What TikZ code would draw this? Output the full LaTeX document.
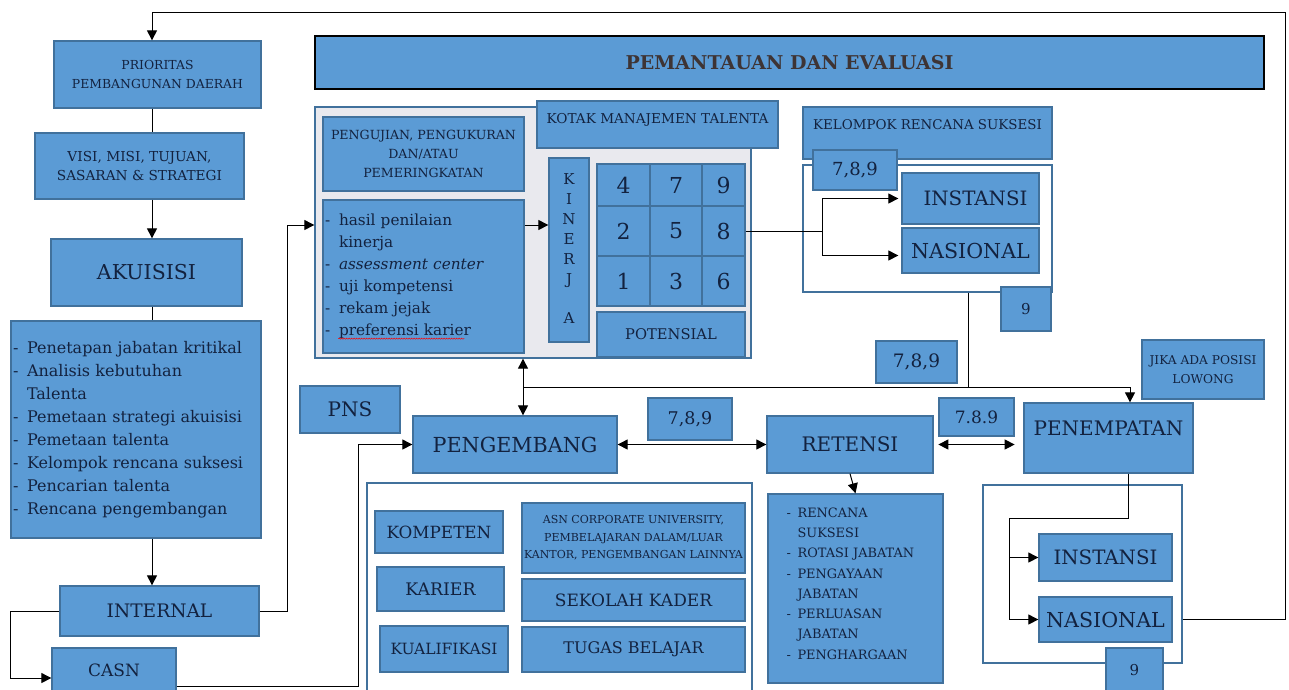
\documentclass[tikz,border=0pt]{standalone}
\usepackage{fontspec}
\setmainfont{DejaVu Serif}
\usetikzlibrary{arrows.meta,calc,decorations.pathmorphing}
\definecolor{bf}{HTML}{5B9BD5}
\definecolor{bd}{HTML}{41719C}
\definecolor{tx}{HTML}{13223F}
\definecolor{gr}{HTML}{E9E9EE}
\definecolor{ttl}{HTML}{3E3434}
\newcommand\fs[2]{\fontsize{#1}{#2}\selectfont}
\newcommand\itm{\makebox[14pt][l]{-}}
\newcommand\itr{\makebox[11pt][l]{-}}
\newcommand\bx[7][]{\node[box,minimum width={#5-#3},minimum height={#6-#4},#1] (#2) at ({(#3+#5)/2},{-(#4+#6)/2}) {#7};}
\begin{document}
\begin{tikzpicture}[x=1pt,y=1pt,
  box/.style={draw=bd,fill=bf,line width=1.3pt,text=tx,inner sep=0pt,align=center},
  lab/.style={inner sep=0pt,text=tx,align=center},
  ln/.style={line width=1pt},
  arr/.style={line width=1pt,-{Triangle[length=10pt,width=10pt]}},
  arr2/.style={line width=1pt,{Triangle[length=10pt,width=10pt]}-{Triangle[length=10pt,width=10pt]}}]
\useasboundingbox (0,0) rectangle (1289,-689);
\fill[white] (0,0) rectangle (1289,-689);
% ---- left column
\bx[font=\fs{12.4}{19}]{prio}{54}{41}{261}{108}{PRIORITAS\\PEMBANGUNAN DAERAH}
\bx[font=\fs{13.7}{19}]{visi}{35}{133}{244}{199}{VISI, MISI, TUJUAN,\\SASARAN \& STRATEGI}
\bx[font=\fs{20.5}{24}]{akui}{51}{239}{242}{306}{AKUISISI}
\bx[font=\fs{16}{23},align=left,text width=246pt]{alist}{11}{321}{261}{538}{\itm Penetapan jabatan kritikal\\\itm Analisis kebutuhan\\\hspace*{14pt}Talenta\\\itm Pemetaan strategi akuisisi\\\itm Pemetaan talenta\\\itm Kelompok rencana suksesi\\\itm Pencarian talenta\\\itm Rencana pengembangan}
\bx[font=\fs{18.6}{22}]{internal}{60}{586}{259}{636}{INTERNAL}
\bx[label={[lab,font=\fs{17}{20},yshift=8]center:CASN}]{casn}{52}{648}{176}{708}{}
\bx[font=\fs{20}{24}]{pns}{300}{386}{400}{433}{PNS}
% ---- title
\bx[draw=black,line width=2pt,font=\fs{19}{24}\bfseries,text=ttl]{title}{315}{36}{1264}{89}{PEMANTAUAN DAN EVALUASI}
% ---- talent box area
\bx[fill=gr]{gray}{315}{107}{751}{358}{}
\bx[font=\fs{12.6}{19}]{peng}{323}{117}{524}{191}{PENGUJIAN, PENGUKURAN\\DAN/ATAU\\PEMERINGKATAN}
\bx[font=\fs{15.3}{22},align=left,text width=197pt]{hasil}{323}{200}{524}{353}{\itm hasil penilaian\\\hspace*{14pt}kinerja\\\itm\textit{assessment center}\\\itm uji kompetensi\\\itm rekam jejak\\\itm preferensi karier}
\draw[red,line width=0.5pt,decorate,decoration={snake,amplitude=0.6pt,segment length=2.5pt}] ([xshift=16,yshift=15]hasil.south west) -- ++(126,0);
\bx[label={[lab,font=\fs{13.6}{16},yshift=4.5]center:KOTAK MANAJEMEN TALENTA}]{kotak}{537}{101}{778}{148}{}
\bx[label={[lab,font=\fs{15}{20},anchor=north,yshift=-16]north:K\\I\\N\\E\\R\\J\\[19pt]A}]{kin}{549}{158}{589}{342}{}
\bx[font=\fs{22}{24}]{g4}{597}{164}{650}{206}{4}
\bx[font=\fs{22}{24}]{g7}{650}{164}{702}{206}{7}
\bx[font=\fs{22}{24}]{g9}{702}{164}{745}{206}{9}
\bx[font=\fs{22}{24}]{g2}{597}{206}{650}{256}{2}
\bx[font=\fs{22}{24}]{g5}{650}{206}{702}{256}{5}
\bx[font=\fs{22}{24}]{g8}{702}{206}{745}{256}{8}
\bx[font=\fs{22}{24}]{g1}{597}{256}{650}{306}{1}
\bx[font=\fs{22}{24}]{g3}{650}{256}{702}{306}{3}
\bx[font=\fs{22}{24}]{g6}{702}{256}{745}{306}{6}
\bx[font=\fs{14.7}{18}]{pot}{597}{312}{745}{357}{POTENSIAL}
% ---- succession group
\bx[label={[lab,font=\fs{13.4}{16},yshift=8]center:KELOMPOK RENCANA SUKSESI}]{kel}{803}{107}{1052}{159}{}
\bx[fill=white]{kbox}{803}{165}{1052}{292}{}
\bx[font=\fs{18}{20}]{sa}{813}{150}{897}{190}{7,8,9}
\bx[label={[lab,font=\fs{19.8}{24},xshift=5]center:INSTANSI}]{inst1}{902}{173}{1039}{224}{}
\bx[font=\fs{20.6}{24}]{nas1}{902}{228}{1039}{273}{NASIONAL}
\bx[font=\fs{15}{16}]{na}{1001}{287}{1051}{331}{9}
\bx[font=\fs{18.5}{20}]{sb}{876}{341}{957}{383}{7,8,9}
\bx[font=\fs{12.2}{19}]{jika}{1142}{340}{1264}{399}{JIKA ADA POSISI\\LOWONG}
% ---- middle row
\bx[font=\fs{20.7}{24}]{pengb}{413}{416}{617}{473}{PENGEMBANG}
\bx[font=\fs{17.5}{20}]{sc}{648}{398}{732}{440}{7,8,9}
\bx[font=\fs{20}{24}]{ret}{767}{416}{933}{473}{RETENSI}
\bx[font=\fs{17}{20}]{sd}{939}{398}{1014}{436}{7.8.9}
\bx[label={[lab,font=\fs{20}{24},yshift=10]center:PENEMPATAN}]{pen}{1024}{403}{1193}{473}{}
% ---- development group
\bx[fill=white]{pbox}{367}{483}{752}{705}{}
\bx[font=\fs{16.8}{20}]{komp}{375}{511}{503}{553}{KOMPETEN}
\bx[font=\fs{17.3}{20}]{kar}{377}{567}{504}{611}{KARIER}
\bx[font=\fs{15.5}{20}]{kual}{380}{626}{508}{672}{KUALIFIKASI}
\bx[font=\fs{11}{17.5}]{asn}{522}{503}{745}{573}{ASN CORPORATE UNIVERSITY,\\PEMBELAJARAN DALAM/LUAR\\KANTOR, PENGEMBANGAN LAINNYA}
\bx[font=\fs{17}{20}]{sek}{522}{579}{745}{621}{SEKOLAH KADER}
\bx[font=\fs{16}{20}]{tug}{522}{627}{745}{672}{TUGAS BELAJAR}
% ---- retention list
\bx[label={[lab,align=left,font=\fs{12.9}{20.3},anchor=north west,xshift=19,yshift=-14]north west:\itr RENCANA\\\hspace*{11pt}SUKSESI\\\itr ROTASI JABATAN\\\itr PENGAYAAN\\\hspace*{11pt}JABATAN\\\itr PERLUASAN\\\hspace*{11pt}JABATAN\\\itr PENGHARGAAN}]{rlist}{768}{494}{943}{683}{}
% ---- placement group
\bx[fill=white]{penbox}{983}{485}{1182}{663}{}
\bx[font=\fs{19.8}{24}]{inst2}{1039}{534}{1172}{581}{INSTANSI}
\bx[font=\fs{20.6}{24}]{nas2}{1039}{597}{1172}{642}{NASIONAL}
\bx[label={[lab,font=\fs{15}{16},yshift=6.5]center:9}]{nb}{1106}{648}{1163}{705}{}
% ---- connectors
\coordinate (xL) at (152,0);
\coordinate (br) at (822,0);
\coordinate (hub) at (523,-387);
\coordinate (bl) at (1009,-518);
\coordinate (fbc) at (1285,-12);
\draw[ln] (prio.south -| xL) -- (visi.north -| xL);
\draw[arr] (visi.south -| xL) -- (akui.north -| xL);
\draw[ln] (akui.south -| xL) -- (alist.north -| xL);
\draw[arr] (alist.south -| xL) -- (internal.north -| xL);
\draw[arr] (internal.west) -- ++(-49,0) |- (casn.west);
\draw[arr] (internal.east) -- ++(28,0) |- ([yshift=7.5]gray.west);
\draw[arr] ([yshift=-8]casn.east) -- ++(182,0) |- (pengb.west);
\draw[arr] ([yshift=51.5]hasil.east) -- ([yshift=51.5]hasil.east -| kin.west);
\draw[ln] (g8.east) -- (g8.east -| br);
\draw[arr,shorten >=3pt] (g8.east -| br) |- (inst1.west);
\draw[arr,shorten >=3pt] (g8.east -| br) |- ([yshift=-5]nas1.west);
\draw[arr] (hub) -- (hub |- gray.south);
\draw[arr] (hub) -- (hub |- pengb.north);
\draw[arr] (hub) -| ([xshift=21.5]pen.north);
\draw[ln] ([xshift=40.5]kbox.south) -- ([xshift=40.5]kbox.south |- hub);
\draw[arr2] (pengb.east) -- (ret.west);
\draw[arr2] (ret.east -| sd.west) -- (ret.east -| sd.east);
\draw[arr] (ret.south) -- (rlist.north);
\draw[ln] ([xshift=20]pen.south) |- (bl);
\draw[arr] (bl) |- (inst2.west);
\draw[arr] (bl) |- (nas2.west);
\draw[arr] (penbox.east |- nas2.east) -| (fbc) -| (xL |- prio.north);
\end{tikzpicture}
\end{document}
